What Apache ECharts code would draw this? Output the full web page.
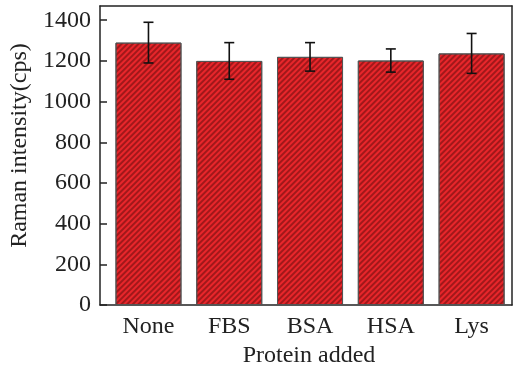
<!DOCTYPE html>
<html>
<head>
<meta charset="utf-8">
<script src="https://cdn.jsdelivr.net/npm/echarts@6/dist/echarts.min.js"></script>
<style>html,body{margin:0;padding:0;background:#fff}#c{width:520px;height:373px}</style>
</head>
<body>
<div id="c"></div>
<script>
const categories = ['None', 'FBS', 'BSA', 'HSA', 'Lys'];
const values = [1290, 1200, 1220, 1202, 1237];
const errors = [100, 90, 70, 57, 98];
const yTicks = [0, 200, 400, 600, 800, 1000, 1200, 1400];

const positions = categories.map((c, i) => i + 1);
const barData = values.map((v, i) => [positions[i], v]);
const errData = values.map((v, i) => [positions[i], v - errors[i], v + errors[i]]);
const font = '"Liberation Serif", "Times New Roman", serif';

const chart = echarts.init(document.getElementById('c'), null, {renderer: 'canvas'});
chart.setOption({
  animation: false,
  backgroundColor: '#fff',
  grid: {left: 95, right: 8, top: 6, bottom: 66},
  xAxis: [{
    type: 'value', min: 0.4, max: 5.5,
    axisLine: {show: true, onZero: false, lineStyle: {color: '#222', width: 1.5}},
    axisTick: {show: false},
    splitLine: {show: false},
    axisLabel: {customValues: positions, formatter: v => categories[Math.round(v) - 1] || '',
      fontFamily: font, fontSize: 24, color: '#222', margin: 10},
    name: 'Protein added', nameLocation: 'middle', nameGap: 38,
    nameTextStyle: {fontFamily: font, fontSize: 24, color: '#222', padding: [0, 0, 0, 6]}
  }, {
    type: 'value', min: 0.4, max: 5.5, position: 'top',
    axisLine: {show: true, onZero: false, lineStyle: {color: '#222', width: 1.5}},
    axisTick: {show: false}, axisLabel: {show: false}, splitLine: {show: false}
  }],
  yAxis: [{
    type: 'value', min: 0, max: 1470,
    axisLine: {show: true, onZero: false, lineStyle: {color: '#222', width: 1.5}},
    axisTick: {show: true, inside: true, length: 7, customValues: yTicks, lineStyle: {color: '#222', width: 1.5}},
    splitLine: {show: false},
    axisLabel: {customValues: yTicks, formatter: v => String(v), fontFamily: font, fontSize: 24, color: '#222', margin: 9},
    name: 'Raman intensity(cps)', nameLocation: 'middle', nameGap: 68,
    nameTextStyle: {fontFamily: font, fontSize: 24, color: '#222', padding: [0, 0, 0, 20]}
  }, {
    type: 'value', min: 0, max: 1470, position: 'right',
    axisLine: {show: true, onZero: false, lineStyle: {color: '#222', width: 1.5}},
    axisTick: {show: false}, axisLabel: {show: false}, splitLine: {show: false}
  }],
  series: [{
    type: 'bar',
    data: barData,
    barWidth: 66,
    itemStyle: {
      color: '#e8262b',
      borderColor: '#555',
      borderWidth: 1,
      decal: {symbol: 'rect', dashArrayX: [1, 0], dashArrayY: [1.5, 1.5], rotation: -Math.PI / 4, color: 'rgba(90,10,10,0.5)'}
    }
  }, {
    type: 'custom',
    data: errData,
    renderItem: function (params, api) {
      const x = api.value(0);
      const lo = api.coord([x, api.value(1)]);
      const hi = api.coord([x, api.value(2)]);
      const w = 5;
      const style = {stroke: '#111', lineWidth: 1.6};
      return {type: 'group', children: [
        {type: 'line', shape: {x1: lo[0], y1: lo[1], x2: hi[0], y2: hi[1]}, style},
        {type: 'line', shape: {x1: lo[0] - w, y1: lo[1], x2: lo[0] + w, y2: lo[1]}, style},
        {type: 'line', shape: {x1: hi[0] - w, y1: hi[1], x2: hi[0] + w, y2: hi[1]}, style}
      ]};
    },
    z: 10
  }]
});
</script>
</body>
</html>
